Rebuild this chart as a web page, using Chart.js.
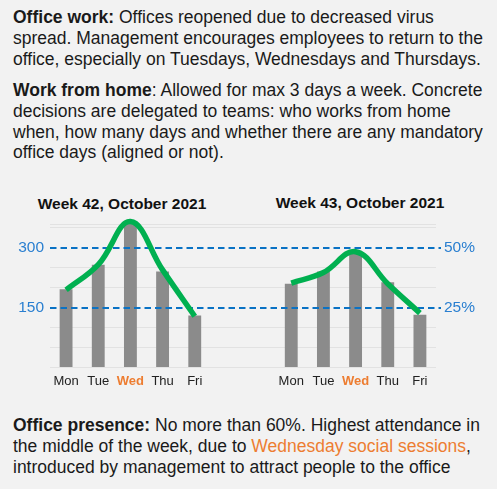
<!DOCTYPE html>
<html>
<head>
<meta charset="utf-8">
<script src="https://cdn.jsdelivr.net/npm/chart.js@4.4.0/dist/chart.umd.min.js"></script>
<style>
  html, body { margin: 0; padding: 0; background: #f2f2f2; }
  body { width: 497px; height: 489px; position: relative; overflow: hidden;
         font-family: "Liberation Sans", Arial, sans-serif; color: #1a1a1a; }
  .para { position: absolute; left: 13px; font-size: 17.5px; line-height: 20.8px; white-space: nowrap; }
  .wk { position: absolute; width: 220px; text-align: center; font-weight: bold; font-size: 15.5px; line-height: 20px; color: #111; }
  .hl { color: #ed7d31; }
  #chartBox { position: absolute; left: 0; top: 180px; }
</style>
</head>
<body>
<div class="para" style="top:7px"><b>Office work:</b> Offices reopened due to decreased virus<br>spread. Management encourages employees to return to the<br>office, especially on Tuesdays, Wednesdays and Thursdays.</div>
<div class="para" style="top:80px"><b>Work from home</b>: Allowed for max 3 days a week. Concrete<br>decisions are delegated to teams: who works from home<br>when, how many days and whether there are any mandatory<br>office days (aligned or not).</div>

<div class="wk" style="left:12px; top:194px">Week 42, October 2021</div>
<div class="wk" style="left:250px; top:193px">Week 43, October 2021</div>

<div id="chartBox"><canvas id="myChart" width="497" height="220"></canvas></div>

<div class="para" style="top:415px"><b>Office presence:</b> No more than 60%. Highest attendance in<br>the middle of the week, due to <span class="hl">Wednesday social sessions</span>,<br>introduced by management to attract people to the office</div>

<script>
var days = ['Mon', 'Tue', 'Wed', 'Thu', 'Fri'];
var gapLabels = ['', ''];
var week42Count = [196, 258, 373, 241, 130];
var week43Count = [210, 241, 293, 214, 132];
var week42Pct = [32.4, 43, 61, 40.8, 21.4];
var week43Pct = [35.3, 39.7, 48.4, 35, 22.7];
var gridValues = [0, 50, 100, 150, 200, 250, 300, 350, 360];
var refCounts = [150, 300];
var refPct = [25, 50];
var highlightDay = 'Wed';

var labels = days.concat(gapLabels, days);
var barData = week42Count.concat([null, null], week43Count);
var lineData = week42Pct.concat([null, null], week43Pct);

var fontFamily = '"Liberation Sans", Arial, sans-serif';
var blue = '#2a7fd0';

var refLines = {
  id: 'refLines',
  beforeDatasetDraw: function (chart, args) {
    if (args.index !== 1) return;
    var ctx = chart.ctx, area = chart.chartArea, y = chart.scales.y;
    ctx.save();
    ctx.strokeStyle = '#0a72c4';
    ctx.lineWidth = 2;
    ctx.setLineDash([6.5, 4]);
    refCounts.forEach(function (v) {
      var py = Math.round(y.getPixelForValue(v));
      ctx.beginPath();
      ctx.moveTo(area.left, py);
      ctx.lineTo(area.right + 5, py);
      ctx.stroke();
    });
    ctx.restore();
  }
};

var chart = new Chart(document.getElementById('myChart'), {
  type: 'bar',
  data: {
    labels: labels,
    datasets: [{
      type: 'bar',
      data: barData,
      backgroundColor: '#8b8b8b',
      barPercentage: 0.4,
      categoryPercentage: 1,
      yAxisID: 'y',
      order: 2
    }, {
      type: 'line',
      data: lineData,
      yAxisID: 'y1',
      borderColor: '#00b050',
      borderWidth: 5.5,
      tension: 0.4,
      pointRadius: 0,
      spanGaps: false,
      clip: false,
      order: 1
    }]
  },
  options: {
    responsive: false,
    animation: false,
    events: [],
    layout: { padding: { top: 44, left: 0, right: 0, bottom: 5 } },
    plugins: { legend: { display: false }, tooltip: { enabled: false } },
    scales: {
      x: {
        offset: true,
        grid: { display: false, drawTicks: false },
        border: { display: false },
        ticks: {
          padding: 6,
          autoSkip: false,
          maxRotation: 0,
          color: function (c) { return labels[c.index] === highlightDay ? '#ed7d31' : '#222'; },
          font: function (c) {
            return { family: fontFamily, size: 13, weight: labels[c.index] === highlightDay ? 'bold' : 'normal' };
          }
        }
      },
      y: {
        position: 'left',
        min: 0,
        max: 360,
        afterBuildTicks: function (s) { s.ticks = gridValues.map(function (v) { return { value: v }; }); },
        afterFit: function (s) { s.width = 50; },
        grid: {
          drawTicks: false,
          lineWidth: 1,
          color: function (c) { return refCounts.indexOf(c.tick.value) >= 0 ? 'rgba(0,0,0,0)' : '#e2e2e2'; }
        },
        border: { display: false },
        ticks: {
          padding: 6,
          autoSkip: false,
          color: blue,
          font: { family: fontFamily, size: 15.5 },
          callback: function (v) { return refCounts.indexOf(v) >= 0 ? String(v) : ''; }
        }
      },
      y1: {
        position: 'right',
        min: 0,
        max: 60,
        afterBuildTicks: function (s) { s.ticks = refPct.map(function (v) { return { value: v }; }); },
        afterFit: function (s) { s.width = 61; },
        grid: { display: false, drawTicks: false },
        border: { display: false },
        ticks: {
          padding: 8,
          autoSkip: false,
          color: blue,
          font: { family: fontFamily, size: 15.5 },
          callback: function (v) { return v + '%'; }
        }
      }
    }
  },
  plugins: [refLines]
});
</script>
</body>
</html>
